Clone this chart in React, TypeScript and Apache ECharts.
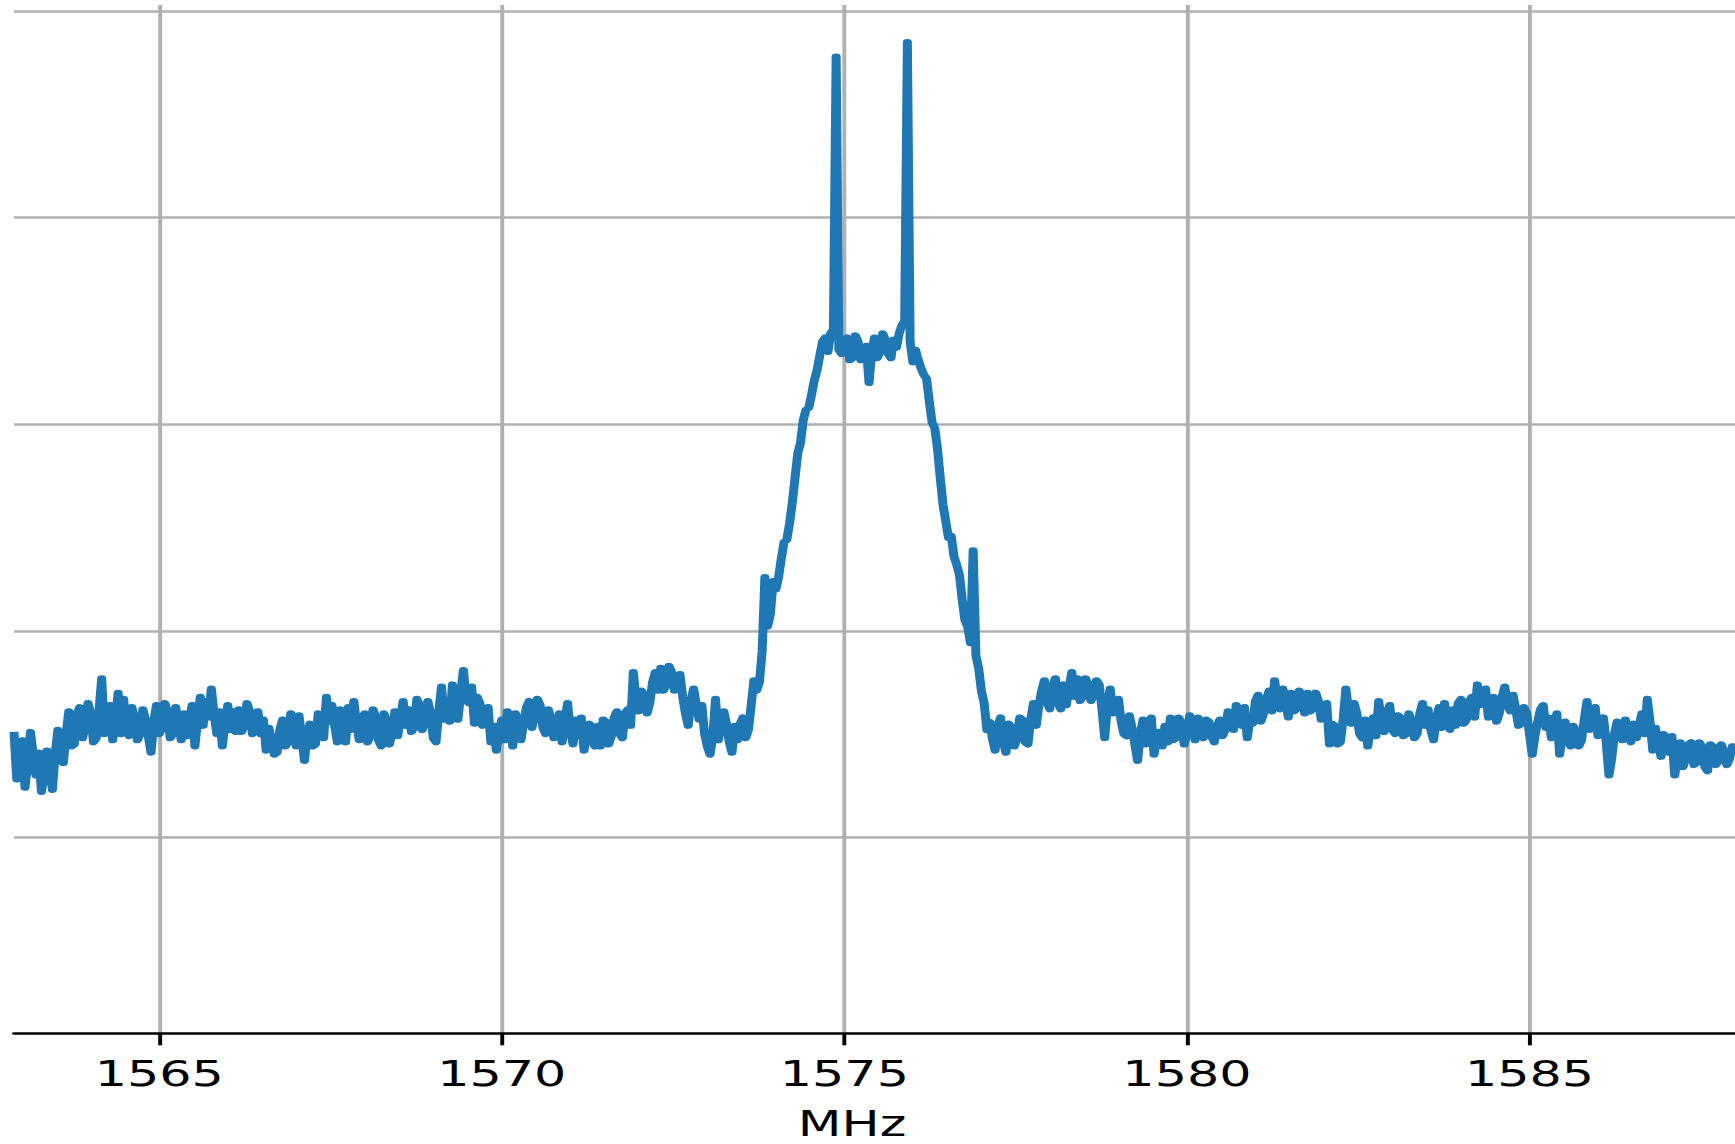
import React, { useEffect, useRef } from "react";
import * as echarts from "echarts";

// ---- data ----
const freqStartMHz = 1562.88;
const freqStepMHz = 0.04;
const powerDb = [
  -34.9, -37.2, -36.5, -35.3, -37.6, -36.4, -34.9, -36.0, -37.0, -35.9,
  -37.8, -37.0, -35.8, -36.6, -37.7, -36.0, -34.8, -35.9, -36.4, -35.0,
  -33.9, -35.6, -35.5, -34.0, -33.7, -35.2, -34.6, -33.5, -34.0, -35.4,
  -35.2, -33.9, -32.3, -35.0, -34.6, -33.6, -35.3, -34.4, -33.0, -35.0,
  -33.3, -34.8, -35.1, -33.7, -34.2, -35.3, -35.0, -33.8, -34.3, -35.1,
  -35.9, -34.4, -33.6, -35.0, -34.7, -33.5, -33.9, -35.2, -35.0, -33.7,
  -34.4, -35.3, -34.0, -35.1, -34.4, -33.6, -35.6, -34.3, -33.2, -34.6,
  -33.4, -34.2, -32.8, -34.0, -35.0, -33.9, -35.6, -34.5, -33.6, -34.8,
  -33.9, -34.9, -33.8, -34.9, -34.6, -33.5, -33.9, -35.0, -34.5, -33.9,
  -35.0, -34.3, -35.8, -34.7, -35.3, -36.0, -35.9, -34.8, -34.3, -35.6,
  -35.4, -34.0, -34.9, -35.6, -34.1, -35.2, -36.3, -35.0, -34.5, -35.6,
  -35.5, -34.0, -34.3, -35.2, -33.2, -34.4, -33.6, -34.6, -35.4, -33.8,
  -34.6, -35.4, -33.7, -34.8, -33.4, -34.5, -35.3, -34.2, -34.0, -35.4,
  -35.1, -33.8, -34.2, -35.3, -35.6, -34.0, -34.4, -35.5, -34.9, -33.9,
  -35.1, -34.3, -33.4, -34.6, -33.8, -34.9, -34.7, -33.3, -33.6, -34.8,
  -34.3, -33.4, -34.0, -35.2, -35.4, -33.9, -32.7, -34.3, -33.4, -34.4,
  -32.6, -33.8, -34.3, -33.0, -31.9, -33.4, -33.5, -32.7, -34.5, -33.2,
  -33.5, -34.6, -34.4, -33.7, -35.4, -34.6, -35.8, -34.9, -34.3, -35.3,
  -33.9, -34.6, -35.6, -34.0, -34.5, -35.3, -34.4, -33.7, -33.4, -34.7,
  -34.1, -33.3, -33.6, -34.7, -35.0, -33.8, -34.3, -35.2, -34.6, -34.0,
  -35.4, -34.4, -33.5, -34.8, -35.5, -34.3, -35.1, -34.2, -35.8, -34.7,
  -34.5, -35.4, -35.6, -34.6, -35.6, -34.3, -34.4, -35.5, -35.1, -34.2,
  -33.9, -35.0, -35.2, -34.0, -33.8, -34.6, -32.0, -33.4, -33.9, -32.9,
  -33.2, -34.0, -33.5, -32.5, -32.0, -32.9, -31.8, -32.9, -32.6, -31.7,
  -32.0, -32.9, -32.8, -32.1, -33.2, -34.0, -34.6, -33.4, -32.8, -33.6,
  -34.3, -33.6, -35.0, -35.6, -36.0, -35.1, -33.3, -35.3, -34.6, -33.9,
  -34.5, -35.4, -35.9, -34.6, -35.3, -34.5, -34.2, -35.2, -34.8, -33.6,
  -32.4, -32.9, -32.5, -31.0, -27.4, -29.8, -29.2, -27.6, -28.0, -27.4,
  -26.5, -25.7, -25.6, -24.8, -23.8, -22.6, -21.4, -20.9, -19.8, -19.3,
  -19.2, -18.6, -17.9, -17.4, -16.7, -16.0, -15.8, -16.5, -15.6, -15.4,
  -2.2, -16.4, -16.6, -15.9, -15.8, -16.9, -16.8, -15.7, -16.0, -16.9,
  -16.8, -16.2, -18.0, -16.5, -15.8, -16.8, -16.5, -15.6, -15.9, -16.6,
  -16.8, -15.9, -16.3, -15.6, -15.2, -15.0, -1.5, -16.0, -17.0, -16.4,
  -16.9, -17.3, -17.6, -17.8, -18.9, -19.9, -20.2, -21.2, -22.6, -23.9,
  -24.7, -25.5, -25.4, -26.4, -26.8, -27.3, -28.5, -29.5, -29.8, -30.6,
  -26.1, -31.2, -31.8, -32.9, -33.5, -34.8, -34.4, -35.2, -35.8, -34.6,
  -34.2, -35.4, -35.9, -34.5, -34.7, -35.6, -35.2, -34.2, -34.3, -35.4,
  -35.5, -34.3, -33.5, -34.6, -33.6, -32.9, -32.4, -33.5, -33.8, -32.7,
  -32.3, -33.5, -33.8, -32.6, -33.6, -32.7, -32.0, -33.2, -32.3, -33.4,
  -33.2, -32.3, -32.6, -33.4, -33.0, -32.4, -32.6, -33.8, -35.2, -33.6,
  -32.8, -34.0, -33.9, -33.3, -34.4, -35.0, -35.1, -34.1, -34.7, -35.5,
  -36.3, -35.0, -34.3, -35.5, -34.8, -34.2, -36.0, -35.2, -34.9, -35.6,
  -34.6, -35.4, -34.2, -35.3, -35.2, -34.2, -34.5, -35.5, -35.0, -34.1,
  -34.6, -35.3, -34.2, -35.0, -35.2, -34.3, -34.4, -35.1, -35.4, -34.6,
  -34.3, -35.1, -34.8, -33.9, -34.0, -34.8, -33.6, -34.5, -34.6, -33.7,
  -35.2, -34.3, -34.5, -33.4, -33.1, -34.4, -34.0, -33.3, -32.9, -33.9,
  -32.4, -33.5, -33.8, -32.8, -33.4, -34.2, -33.0, -33.9, -33.8, -32.9,
  -33.2, -34.0, -33.0, -33.9, -33.8, -33.0, -33.4, -34.3, -34.0, -33.5,
  -35.5, -34.5, -34.6, -35.5, -35.4, -34.3, -32.8, -33.9, -34.5, -33.5,
  -34.0, -35.0, -35.2, -34.3, -35.6, -34.6, -34.2, -35.1, -33.4, -34.4,
  -34.9, -34.0, -33.6, -34.8, -35.0, -34.1, -34.2, -35.1, -35.0, -34.0,
  -34.4, -35.2, -35.0, -34.0, -33.5, -34.6, -33.8, -34.8, -35.3, -34.3,
  -33.7, -34.7, -33.5, -34.4, -34.8, -33.8, -34.6, -33.5, -33.3, -34.5,
  -34.3, -33.4, -33.2, -34.2, -32.6, -33.6, -33.4, -32.8, -34.2, -33.5,
  -33.2, -34.4, -34.0, -33.2, -32.7, -33.6, -33.9, -33.1, -33.8, -34.6,
  -34.5, -33.7, -34.0, -35.0, -36.0, -35.1, -34.4, -33.8, -33.6, -34.7,
  -34.2, -35.2, -34.8, -34.0, -36.0, -35.1, -34.4, -35.3, -35.6, -34.6,
  -34.9, -35.6, -35.3, -34.3, -33.4, -34.8, -34.4, -33.7, -35.1, -34.5,
  -34.2, -35.4, -37.0, -36.2, -35.0, -34.4, -34.6, -35.3, -34.3, -35.0,
  -35.4, -34.5, -35.2, -34.6, -34.0, -35.0, -33.3, -34.4, -35.8, -34.7,
  -35.5, -36.1, -35.0, -35.4, -35.9, -35.1, -37.0, -36.1, -35.4, -36.6,
  -36.2, -35.5, -35.4, -36.5, -36.4, -35.4, -35.6, -36.6, -36.8, -35.5,
  -35.6, -36.5, -36.3, -35.5, -35.9, -36.5, -36.2, -35.6, -36.0,
];
const xTicks = [1565, 1570, 1575, 1580, 1585];
const xMin = 1562.88;
const xMax = 1588.0;
const yMin = -49.49;
const yMax = 0.3;
const xName = "MHz";

// ---- layout ----
const PAGE_W = 1735;
const PAGE_H = 1144;
const INNER_W = 1197;
const STRETCH = PAGE_W / INNER_W;

export default function App() {
  const ref = useRef<HTMLDivElement>(null);

  useEffect(() => {
    document.body.style.margin = "0";
    const el = ref.current;
    if (!el) return;
    const chart = echarts.init(el, null, { renderer: "svg" });
    const seriesData = powerDb.map((v, i) => [freqStartMHz + i * freqStepMHz, v]);
    const font = "DejaVu Sans";
    chart.setOption({
      animation: false,
      backgroundColor: "#ffffff",
      grid: {
        left: 9.66,
        right: 0,
        top: 5,
        bottom: PAGE_H - 1033.3,
        containLabel: false,
        outerBoundsMode: "none",
      },
      xAxis: {
        type: "value",
        min: xMin,
        max: xMax,
        minInterval: 5,
        maxInterval: 5,
        name: xName,
        nameLocation: "middle",
        nameGap: 73,
        nameTextStyle: {
          fontFamily: font,
          fontSize: 35,
          color: "#000",
          padding: [0, 31, 0, 0],
        },
        axisLine: { show: true, onZero: false, lineStyle: { color: "#000", width: 2.7 } },
        axisTick: {
          show: true,
          customValues: xTicks,
          length: 12,
          lineStyle: { color: "#000", width: 2.7 },
        },
        axisLabel: {
          show: true,
          customValues: xTicks,
          margin: 23,
          fontFamily: font,
          fontSize: 35,
          color: "#000",
          formatter: (v: number) => String(v),
        },
        splitLine: {
          show: true,
          lineStyle: { color: "#b0b0b0", width: 2.7 },
        },
      },
      yAxis: {
        type: "value",
        min: yMin,
        max: yMax,
        minInterval: 10,
        maxInterval: 10,
        axisLine: { show: false },
        axisTick: { show: false },
        axisLabel: { show: false },
        splitLine: {
          show: true,
          showMinLine: false,
          showMaxLine: false,
          lineStyle: { color: "#b0b0b0", width: 2.7 },
        },
      },
      series: [
        {
          type: "line",
          data: seriesData,
          showSymbol: false,
          symbol: "none",
          clip: true,
          lineStyle: { color: "#1f77b4", width: 6.2, join: "round", cap: "butt" },
          z: 3,
        },
      ],
    });
    return () => chart.dispose();
  }, []);

  return (
    <div
      style={{
        position: "fixed",
        left: 0,
        top: 0,
        width: PAGE_W,
        height: PAGE_H,
        overflow: "hidden",
        background: "#ffffff",
      }}
    >
      <div
        ref={ref}
        style={{
          width: INNER_W,
          height: PAGE_H,
          transform: `scaleX(${STRETCH})`,
          transformOrigin: "0 0",
        }}
      />
    </div>
  );
}
